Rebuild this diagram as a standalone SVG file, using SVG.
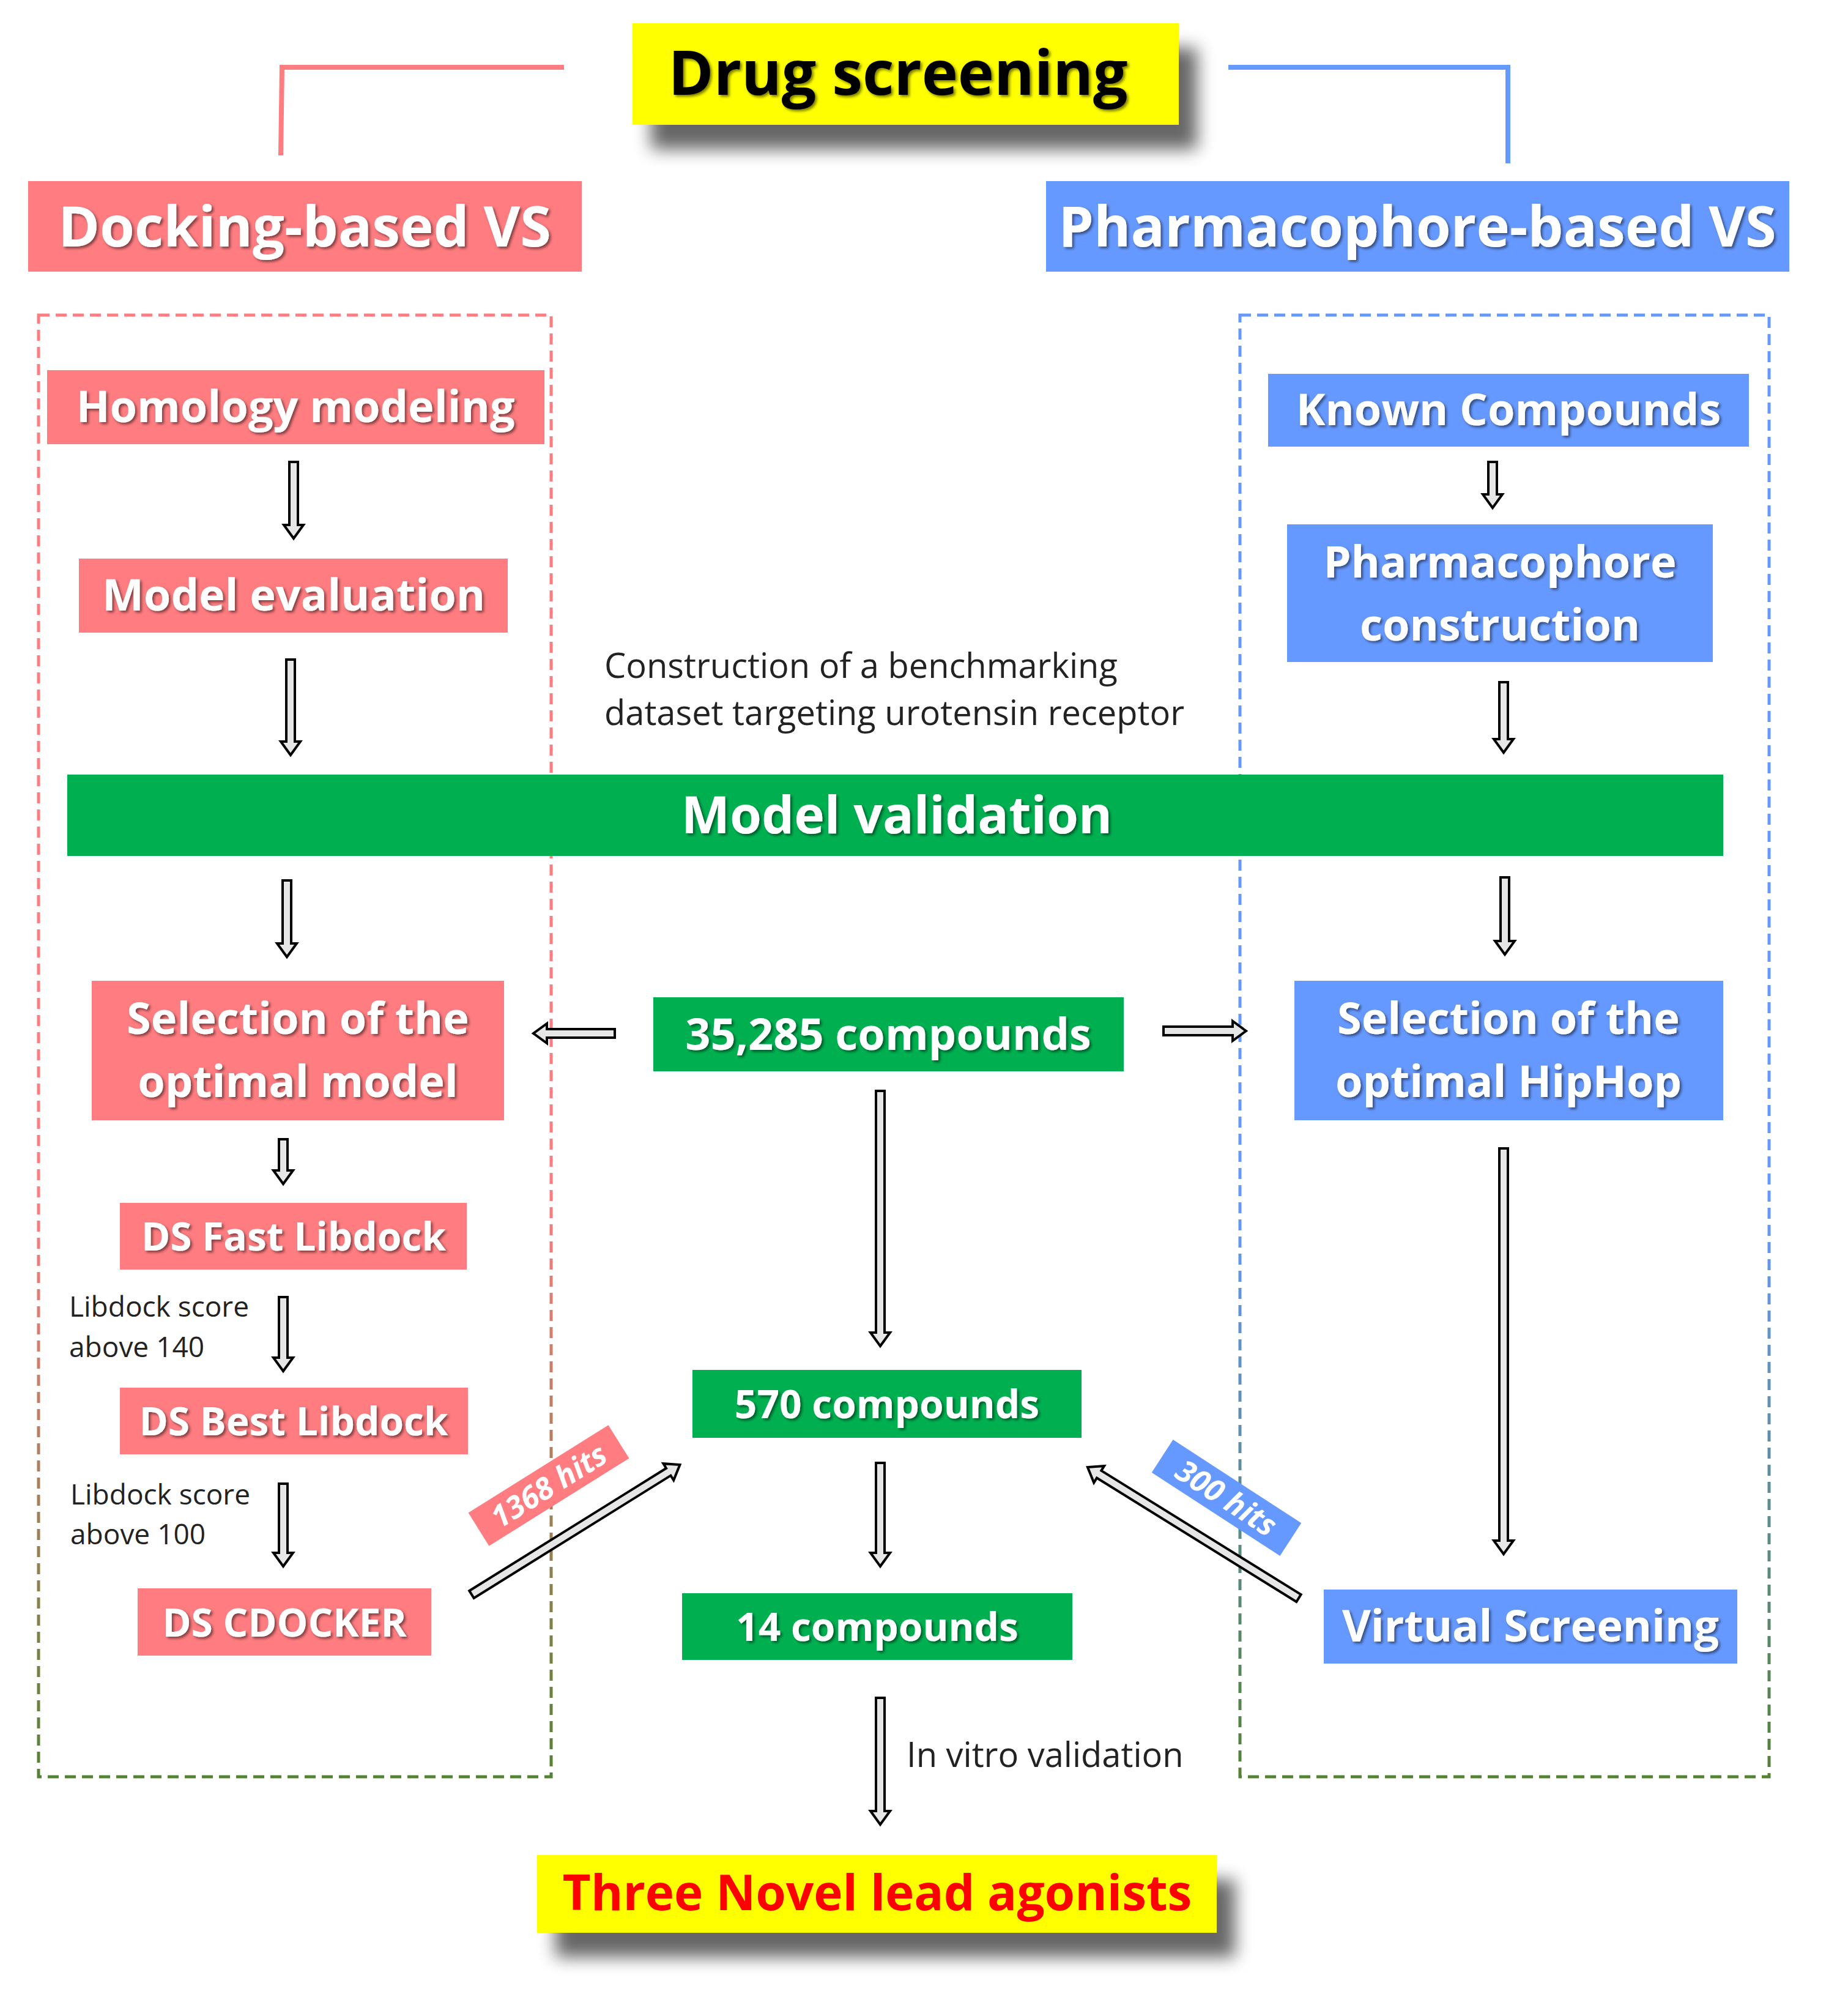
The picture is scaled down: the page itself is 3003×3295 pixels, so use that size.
<svg xmlns="http://www.w3.org/2000/svg" width="3003" height="3295" viewBox="0 0 3003 3295">
<defs>
<style>
.r{fill:#FF7C80}.b{fill:#6699FF}.g{fill:#00B050}.y{fill:#FFFF00}
.t{font-family:"Open Sans","Noto Sans",sans-serif;font-weight:bold;fill:#fff;text-anchor:middle}
.n{font-family:"Open Sans","Noto Sans",sans-serif;fill:#222}
.ar{fill:#e6e6e6;stroke:#000;stroke-width:4;stroke-linejoin:miter}
</style>
<filter id="sh" x="-20%" y="-20%" width="150%" height="180%"><feGaussianBlur in="SourceAlpha" stdDeviation="14"/><feOffset dx="30" dy="40"/><feComponentTransfer><feFuncA type="linear" slope="0.6"/></feComponentTransfer><feMerge><feMergeNode/><feMergeNode in="SourceGraphic"/></feMerge></filter>
<filter id="ts" x="-5%" y="-20%" width="110%" height="140%"><feGaussianBlur in="SourceAlpha" stdDeviation="2"/><feOffset dx="3" dy="3"/><feComponentTransfer><feFuncA type="linear" slope="0.5"/></feComponentTransfer><feMerge><feMergeNode/><feMergeNode in="SourceGraphic"/></feMerge></filter>
<linearGradient id="gr" x1="0" y1="0" x2="0" y2="1"><stop offset="0" stop-color="#FF7C80"/><stop offset="0.6" stop-color="#FF7C80"/><stop offset="1" stop-color="#548235"/></linearGradient>
<linearGradient id="gb" x1="0" y1="0" x2="0" y2="1"><stop offset="0" stop-color="#6699FF"/><stop offset="0.6" stop-color="#6699FF"/><stop offset="1" stop-color="#548235"/></linearGradient>
</defs>
<rect width="3003" height="3295" fill="#fff"/>
<g id="brackets" fill="none" stroke-width="8">
<polyline points="459,254 461,110 922,110" stroke="#FF7C80"/>
<polyline points="2008,110 2465,110 2465,267" stroke="#6699FF"/>
</g>
<g id="dashboxes" fill="none" stroke-width="5" stroke-dasharray="18,10">
<rect x="63" y="515" width="838" height="2389" stroke="url(#gr)"/>
<rect x="2027" y="515" width="865" height="2389" stroke="url(#gb)"/>
</g>
<g id="title"><rect class="y" x="1034" y="38" width="893" height="166" filter="url(#sh)"/><text x="1468" y="155" font-family="Open Sans,sans-serif" font-weight="bold" font-size="100" text-anchor="middle" fill="#000" filter="url(#ts)">Drug screening</text></g>
<g id="docking"><rect class="r" x="46" y="296" width="905" height="148"/><text class="t" x="498" y="403" font-size="92" filter="url(#ts)">Docking-based VS</text></g>
<g id="pharmvs"><rect class="b" x="1710" y="296" width="1215" height="148"/><text class="t" x="2317" y="403" font-size="92" filter="url(#ts)">Pharmacophore-based VS</text></g>
<g id="homology"><rect class="r" x="77" y="605" width="813" height="121"/><text class="t" x="483" y="690" font-size="72" filter="url(#ts)">Homology modeling</text></g>
<g id="modeleval"><rect class="r" x="129" y="913" width="701" height="121"/><text class="t" x="480" y="998" font-size="72" filter="url(#ts)">Model evaluation</text></g>
<g id="known"><rect class="b" x="2073" y="611" width="786" height="119"/><text class="t" x="2466" y="695" font-size="72" filter="url(#ts)">Known Compounds</text></g>
<g id="pharmcon"><rect class="b" x="2104" y="857" width="696" height="225"/><text class="t" x="2452" y="944" font-size="72" filter="url(#ts)">Pharmacophore</text><text class="t" x="2452" y="1047" font-size="72" filter="url(#ts)">construction</text></g>
<g id="bench"><text class="n" x="988" y="1108" font-size="56">Construction of a benchmarking</text><text class="n" x="988" y="1185" font-size="56">dataset targeting urotensin receptor</text></g>
<g id="validation"><rect class="g" x="110" y="1266" width="2707" height="133"/><text class="t" x="1466" y="1362" font-size="84" filter="url(#ts)">Model validation</text></g>
<g id="selmodel"><rect class="r" x="150" y="1603" width="674" height="228"/><text class="t" x="487" y="1690" font-size="72" filter="url(#ts)">Selection of the</text><text class="t" x="487" y="1793" font-size="72" filter="url(#ts)">optimal model</text></g>
<g id="c35285"><rect class="g" x="1068" y="1630" width="769" height="121"/><text class="t" x="1452" y="1716" font-size="72" filter="url(#ts)">35,285 compounds</text></g>
<g id="selhiphop"><rect class="b" x="2116" y="1603" width="701" height="228"/><text class="t" x="2466" y="1690" font-size="72" filter="url(#ts)">Selection of the</text><text class="t" x="2466" y="1793" font-size="72" filter="url(#ts)">optimal HipHop</text></g>
<g id="fastlib"><rect class="r" x="196" y="1966" width="567" height="109"/><text class="t" x="480" y="2044" font-size="64" filter="url(#ts)">DS Fast Libdock</text></g>
<g id="note140"><text class="n" x="113" y="2152" font-size="46">Libdock score</text><text class="n" x="113" y="2218" font-size="46">above 140</text></g>
<g id="bestlib"><rect class="r" x="196" y="2268" width="569" height="109"/><text class="t" x="480" y="2346" font-size="64" filter="url(#ts)">DS Best Libdock</text></g>
<g id="note100"><text class="n" x="115" y="2459" font-size="46">Libdock score</text><text class="n" x="115" y="2524" font-size="46">above 100</text></g>
<g id="cdocker"><rect class="r" x="225" y="2596" width="480" height="110"/><text class="t" x="465" y="2675" font-size="64" filter="url(#ts)">DS CDOCKER</text></g>
<g id="c570"><rect class="g" x="1132" y="2239" width="636" height="111"/><text class="t" x="1450" y="2318" font-size="64" filter="url(#ts)">570 compounds</text></g>
<g id="c14"><rect class="g" x="1115" y="2604" width="638" height="109"/><text class="t" x="1434" y="2682" font-size="64" filter="url(#ts)">14 compounds</text></g>
<g id="vscreen"><rect class="b" x="2164" y="2598" width="676" height="121"/><text class="t" x="2502" y="2683" font-size="72" filter="url(#ts)">Virtual Screening</text></g>
<g id="invitro"><text class="n" x="1482" y="2888" font-size="56">In vitro validation</text></g>
<g id="lead"><rect class="y" x="878" y="3032" width="1111" height="127" filter="url(#sh)"/><text x="1434" y="3122" font-family="Open Sans,sans-serif" font-weight="bold" font-size="80" text-anchor="middle" fill="#FF0000">Three Novel lead agonists</text></g>
<g id="connectors">
<polygon class="ar" points="473,755 487,755 487,858 496,858 480,880 464,858 473,858"/>
<polygon class="ar" points="468,1078 482,1078 482,1212 491,1212 475,1234 459,1212 468,1212"/>
<polygon class="ar" points="2433,755 2447,755 2447,808 2456,808 2440,830 2424,808 2433,808"/>
<polygon class="ar" points="2451,1115 2465,1115 2465,1208 2474,1208 2458,1230 2442,1208 2451,1208"/>
<polygon class="ar" points="462,1439 476,1439 476,1542 485,1542 469,1564 453,1542 462,1542"/>
<polygon class="ar" points="2453,1434 2467,1434 2467,1538 2476,1538 2460,1560 2444,1538 2453,1538"/>
<polygon class="ar" points="456,1862 470,1862 470,1913 479,1913 463,1935 447,1913 456,1913"/>
<polygon class="ar" points="456,2120 470,2120 470,2219 479,2219 463,2241 447,2219 456,2219"/>
<polygon class="ar" points="456,2425 470,2425 470,2538 479,2538 463,2560 447,2538 456,2538"/>
<polygon class="ar" points="1432,1783 1446,1783 1446,2178 1455,2178 1439,2200 1423,2178 1432,2178"/>
<polygon class="ar" points="1432,2391 1446,2391 1446,2538 1455,2538 1439,2560 1423,2538 1432,2538"/>
<polygon class="ar" points="1432,2775 1446,2775 1446,2960 1455,2960 1439,2982 1423,2960 1432,2960"/>
<polygon class="ar" points="2451,1877 2465,1877 2465,2518 2474,2518 2458,2540 2442,2518 2451,2518"/>
<polygon class="ar" points="1005,1682 1005,1696 894,1696 894,1705 872,1689 894,1673 894,1682"/>
<polygon class="ar" points="1902,1678 1902,1692 2015,1692 2015,1701 2037,1685 2015,1669 2015,1678"/>
<polygon class="ar" points="0,-7 379,-7 379,-16 401,0 379,16 379,7 0,7" transform="translate(771,2606) rotate(-31.9)"/>
<polygon class="ar" points="0,-7 384,-7 384,-16 406,0 384,16 384,7 0,7" transform="translate(2123,2612) rotate(-148.2)"/>
</g>
<g id="hits1368" transform="translate(897,2428) rotate(-32)"><rect class="r" x="-135" y="-32" width="270" height="64"/><text class="t" x="0" y="18" font-size="50" font-weight="normal" font-style="italic">1368 hits</text></g>
<g id="hits300" transform="translate(2005,2448) rotate(33)"><rect class="b" x="-125" y="-32" width="250" height="64"/><text class="t" x="0" y="18" font-size="50" font-weight="normal" font-style="italic">300 hits</text></g>
</svg>
